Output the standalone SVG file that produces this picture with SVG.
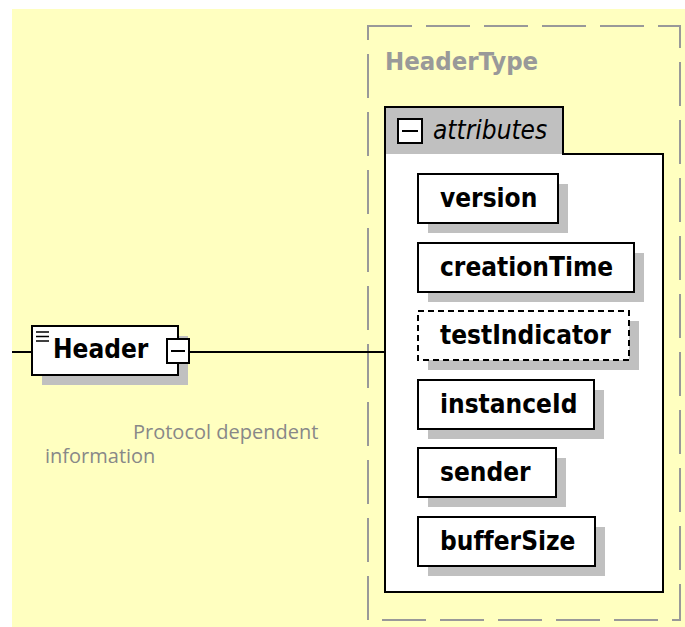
<svg xmlns="http://www.w3.org/2000/svg" width="685" height="627" viewBox="0 0 685 627">
  <defs>
    <style>
      text { font-variant-ligatures: none; }
      .bg { fill: #ffffc0; }
      .type-frame { fill: none; stroke: #999999; stroke-width: 2; stroke-dasharray: 44 14; }
      .type-label { font-family: "DejaVu Sans", "Liberation Sans", sans-serif; font-stretch: condensed; font-weight: bold; font-size: 25.5px; fill: #999999; }
      .shadow { fill: #c0c0c0; }
      .box { fill: #ffffff; stroke: #000000; stroke-width: 2; }
      .box-opt { fill: #ffffff; stroke: #000000; stroke-width: 2; stroke-dasharray: 6 4; }
      .name { font-family: "DejaVu Sans", "Liberation Sans", sans-serif; font-stretch: condensed; font-weight: bold; font-size: 26px; fill: #000000; }
      .group-title { font-family: "DejaVu Sans", "Liberation Sans", sans-serif; font-stretch: condensed; font-style: italic; font-size: 26px; fill: #000000; }
      .doc { font-family: "Open Sans", "Noto Sans", sans-serif; font-size: 20px; fill: #888888; }
      .wire { fill: none; stroke: #000000; stroke-width: 2; }
    </style>
  </defs>

  <!-- canvas -->
  <rect class="bg" x="12" y="9" width="673" height="618"/>

  <!-- complex type frame -->
  <g id="HeaderType">
    <rect class="type-frame" x="368" y="26" width="312" height="594"/>
    <text class="type-label" x="385" y="70">HeaderType</text>
  </g>

  <!-- connectors -->
  <g id="connectors">
    <line class="wire" x1="12" y1="352" x2="32" y2="352"/>
    <line class="wire" x1="190" y1="352" x2="385" y2="352"/>
  </g>

  <!-- Header element -->
  <g id="Header">
    <rect class="shadow" x="42" y="336" width="146" height="49"/>
    <rect class="box" x="32" y="326" width="146" height="49"/>
    <path d="M36 332h13M36 336.5h13M36 341h13" stroke="#000" stroke-width="1.6"/>
    <text class="name" x="53" y="358">Header</text>
    <rect class="box" x="167" y="339" width="22" height="24"/>
    <line x1="171" y1="351" x2="185" y2="351" stroke="#000" stroke-width="2"/>
    <text class="doc" x="133" y="439">Protocol dependent</text>
    <text class="doc" x="45" y="463">information</text>
  </g>

  <!-- attribute group -->
  <g id="attributes">
    <rect x="385" y="154" width="278" height="438" fill="#ffffff"/>
    <rect x="385" y="107" width="178" height="47" fill="#c0c0c0"/>
    <path class="wire" d="M385 592V107H563V154H663V592Z"/>
    <rect class="box" x="398" y="119" width="24" height="24"/>
    <line x1="402" y1="131" x2="418" y2="131" stroke="#000" stroke-width="2"/>
    <text class="group-title" x="433" y="139">attributes</text>
  </g>

  <g id="version">
    <rect class="shadow" x="428" y="184" width="140" height="49"/>
    <rect class="box" x="418" y="174" width="140" height="49"/>
    <text class="name" x="440" y="207">version</text>
  </g>
  <g id="creationTime">
    <rect class="shadow" x="428" y="253" width="216" height="49"/>
    <rect class="box" x="418" y="243" width="216" height="49"/>
    <text class="name" x="440" y="276">creationTime</text>
  </g>
  <g id="testIndicator">
    <rect class="shadow" x="428" y="321" width="211" height="49"/>
    <rect class="box-opt" x="418" y="311" width="211" height="49"/>
    <text class="name" x="440" y="344">testIndicator</text>
  </g>
  <g id="instanceId">
    <rect class="shadow" x="428" y="390" width="176" height="49"/>
    <rect class="box" x="418" y="380" width="176" height="49"/>
    <text class="name" x="440" y="413">instanceId</text>
  </g>
  <g id="sender">
    <rect class="shadow" x="428" y="458" width="138" height="49"/>
    <rect class="box" x="418" y="448" width="138" height="49"/>
    <text class="name" x="440" y="481">sender</text>
  </g>
  <g id="bufferSize">
    <rect class="shadow" x="428" y="527" width="177" height="49"/>
    <rect class="box" x="418" y="517" width="177" height="49"/>
    <text class="name" x="440" y="550">bufferSize</text>
  </g>
</svg>
